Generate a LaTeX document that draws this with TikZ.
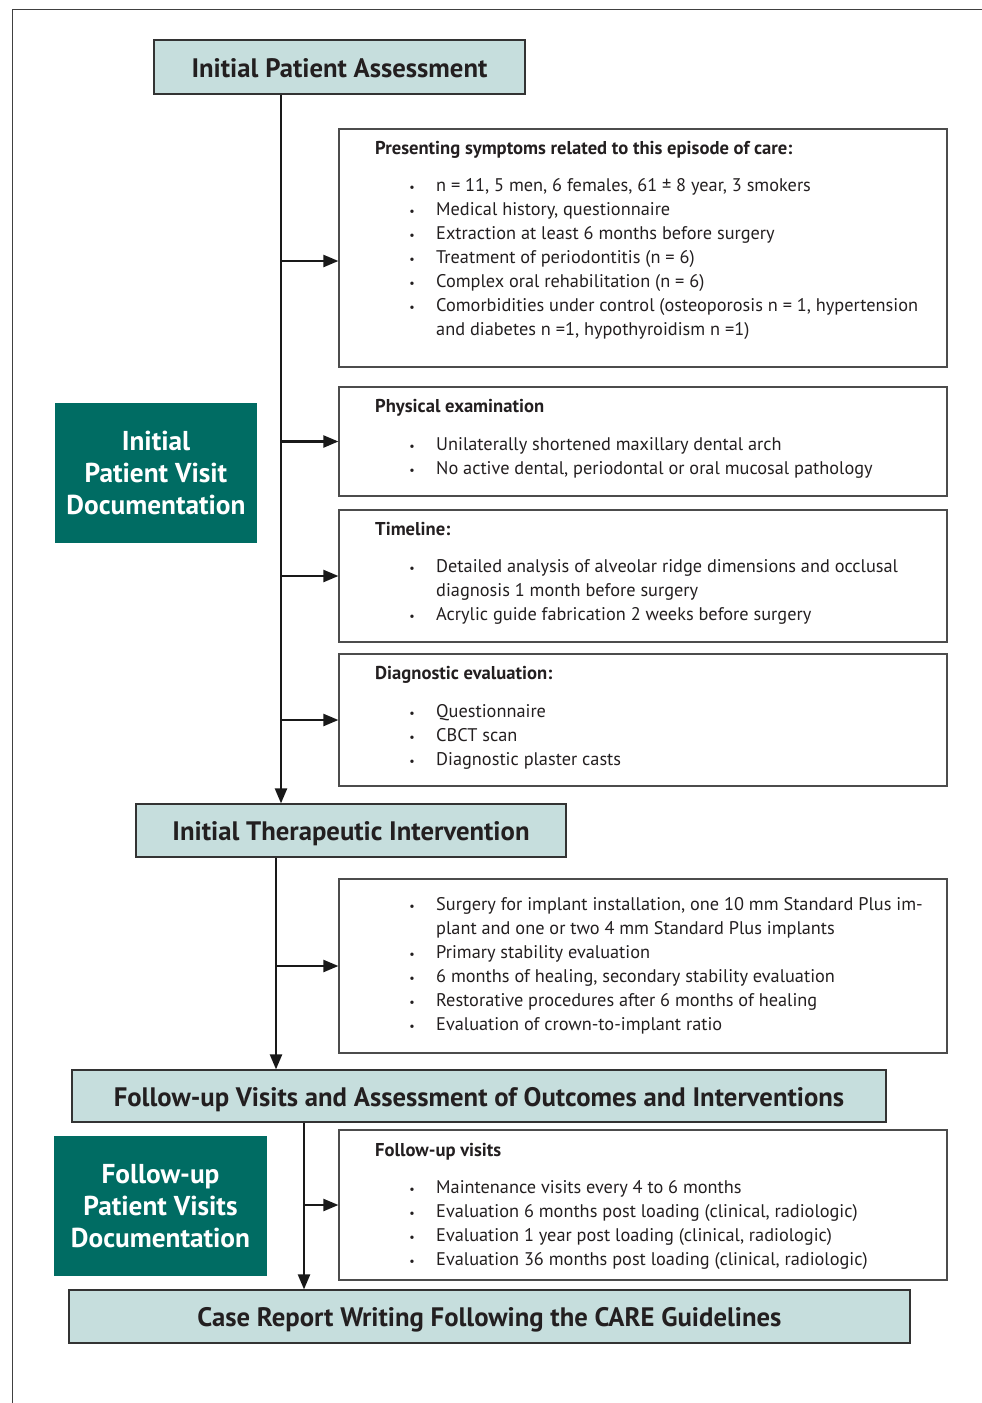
\documentclass[tikz,border=0pt]{standalone}
\usepackage{fontspec}
\setmainfont{PT Sans}
\usetikzlibrary{arrows.meta}
\definecolor{lteal}{HTML}{C6DEDD}
\definecolor{dgreen}{HTML}{006C63}
\definecolor{txtc}{HTML}{231F20}
\begin{document}
\begin{tikzpicture}[x=1pt,y=-1pt,
  frameline/.style={line width=1pt,draw=black!75},
  hdr/.style={draw=black!80,fill=lteal,line width=1.2pt,inner sep=0,text=txtc,
    text height=20.5pt,text depth=0pt,
    font=\bfseries\fontsize{26.7}{30}\selectfont},
  cbox/.style={draw=black!70,line width=1.2pt,inner sep=0},
  gbox/.style={fill=dgreen,text=white,align=center,inner sep=0,
    font=\bfseries\fontsize{27.3}{32}\selectfont},
  arr/.style={line width=2.2pt,draw=black!90,-{Triangle[length=15pt,width=12pt]}},
  ln/.style={anchor=base west,inner sep=0,text=txtc,font=\fontsize{18.3}{20}\selectfont},
  hd/.style={anchor=base west,inner sep=0,text=txtc,font=\bfseries\fontsize{18.6}{20}\selectfont},
  bul/.style={anchor=base,inner sep=0,text=txtc,font=\fontsize{12}{14}\selectfont}
]
\useasboundingbox (0,0) rectangle (982,1403);
\draw[frameline] (982,9) -- (12,9) -- (12,1403);

% header boxes
\node[hdr,minimum width=371,minimum height=54] (ipa) at (339.5,67) {Initial Patient Assessment};
\node[hdr,minimum width=430,minimum height=53] (iti) at (351,830.5) {Initial Therapeutic Intervention};
\node[hdr,minimum width=814,minimum height=52] (fu) at (479,1096) {Follow-up Visits and Assessment of Outcomes and Interventions};
\node[hdr,minimum width=841,minimum height=53] (cr) at (489.5,1316.5) {Case Report Writing Following the CARE Guidelines};

% green boxes
\node[gbox,minimum width=202,minimum height=140] (g1) at (156,473) {\rule{0pt}{4pt}Initial\\Patient Visit\\Documentation};
\node[gbox,minimum width=213,minimum height=140] (g2) at (160.5,1206) {Follow-up\\Patient Visits\\Documentation};

% content boxes
\node[cbox,minimum width=608,minimum height=238] (b1) at (643,248) {};
\node[cbox,minimum width=608,minimum height=109] (b2) at (643,441.5) {};
\node[cbox,minimum width=608,minimum height=132] (b3) at (643,576) {};
\node[cbox,minimum width=608,minimum height=132] (b4) at (643,720) {};
\node[cbox,minimum width=608,minimum height=174] (b5) at (643,966) {};
\node[cbox,minimum width=608,minimum height=150] (b6) at (643,1205) {};

% box 1 text
\node[hd] (b1h) at (375,154) {Presenting symptoms related to this episode of care:};
\node[bul] (b1p1) at (412,191) {•};\node[ln] (b1t1) at (436,191) {n = 11, 5 men, 6 females, 61 ± 8 year, 3 smokers};
\node[bul] (b1p2) at (412,215) {•};\node[ln] (b1t2) at (436,215) {Medical history, questionnaire};
\node[bul] (b1p3) at (412,239) {•};\node[ln] (b1t3) at (436,239) {Extraction at least 6 months before surgery};
\node[bul] (b1p4) at (412,263) {•};\node[ln] (b1t4) at (436,263) {Treatment of periodontitis (n = 6)};
\node[bul] (b1p5) at (412,287) {•};\node[ln] (b1t5) at (436,287) {Complex oral rehabilitation (n = 6)};
\node[bul] (b1p6) at (412,311) {•};\node[ln] (b1t6) at (436,311) {Comorbidities under control (osteoporosis n = 1, hypertension};
\node[ln] (b1t7) at (436,335) {and diabetes n =1, hypothyroidism n =1)};

% box 2 text
\node[hd] (b2h) at (375,412) {Physical examination};
\node[bul] (b2p1) at (412,450) {•};\node[ln] (b2t1) at (436,450) {Unilaterally shortened maxillary dental arch};
\node[bul] (b2p2) at (412,474) {•};\node[ln] (b2t2) at (436,474) {No active dental, periodontal or oral mucosal pathology};

% box 3 text
\node[hd] (b3h) at (375,535) {Timeline:};
\node[bul] (b3p1) at (412,572) {•};\node[ln] (b3t1) at (436,572) {Detailed analysis of alveolar ridge dimensions and occlusal};
\node[ln] (b3t2) at (436,596) {diagnosis 1 month before surgery};
\node[bul] (b3p3) at (412,620) {•};\node[ln] (b3t3) at (436,620) {Acrylic guide fabrication 2 weeks before surgery};

% box 4 text
\node[hd] (b4h) at (375,679) {Diagnostic evaluation:};
\node[bul] (b4p1) at (412,717) {•};\node[ln] (b4t1) at (436,717) {Questionnaire};
\node[bul] (b4p2) at (412,741) {•};\node[ln] (b4t2) at (436,741) {CBCT scan};
\node[bul] (b4p3) at (412,765) {•};\node[ln] (b4t3) at (436,765) {Diagnostic plaster casts};

% box 5 text
\node[bul] (b5p1) at (412,910) {•};\node[ln] (b5t1) at (436,910) {Surgery for implant installation, one 10 mm Standard Plus im-};
\node[ln] (b5t2) at (436,934) {plant and one or two 4 mm Standard Plus implants};
\node[bul] (b5p3) at (412,958) {•};\node[ln] (b5t3) at (436,958) {Primary stability evaluation};
\node[bul] (b5p4) at (412,982) {•};\node[ln] (b5t4) at (436,982) {6 months of healing, secondary stability evaluation};
\node[bul] (b5p5) at (412,1006) {•};\node[ln] (b5t5) at (436,1006) {Restorative procedures after 6 months of healing};
\node[bul] (b5p6) at (412,1030) {•};\node[ln] (b5t6) at (436,1030) {Evaluation of crown-to-implant ratio};

% box 6 text
\node[hd] (b6h) at (375,1156) {Follow-up visits};
\node[bul] (b6p1) at (412,1193) {•};\node[ln] (b6t1) at (436,1193) {Maintenance visits every 4 to 6 months};
\node[bul] (b6p2) at (412,1217) {•};\node[ln] (b6t2) at (436,1217) {Evaluation 6 months post loading (clinical, radiologic)};
\node[bul] (b6p3) at (412,1241) {•};\node[ln] (b6t3) at (436,1241) {Evaluation 1 year post loading (clinical, radiologic)};
\node[bul] (b6p4) at (412,1265) {•};\node[ln] (b6t4) at (436,1265) {Evaluation 36 months post loading (clinical, radiologic)};

% trunks
\coordinate (t1) at (281,0);
\coordinate (t2) at (276,0);
\coordinate (t3) at (304,0);
\coordinate (a1) at ([yshift=-13pt]b1.west);

\draw[arr] (ipa.south -| t1) -- (iti.north -| t1);
\draw[arr] (a1 -| t1) -- (a1);
\draw[arr] (b2.west -| t1) -- (b2.west);
\draw[arr] (b3.west -| t1) -- (b3.west);
\draw[arr] (b4.west -| t1) -- (b4.west);

\draw[arr] (iti.south -| t2) -- (fu.north -| t2);
\draw[arr] (b5.west -| t2) -- (b5.west);

\draw[arr] (fu.south -| t3) -- (cr.north -| t3);
\draw[arr] (b6.west -| t3) -- (b6.west);
\end{tikzpicture}
\end{document}
